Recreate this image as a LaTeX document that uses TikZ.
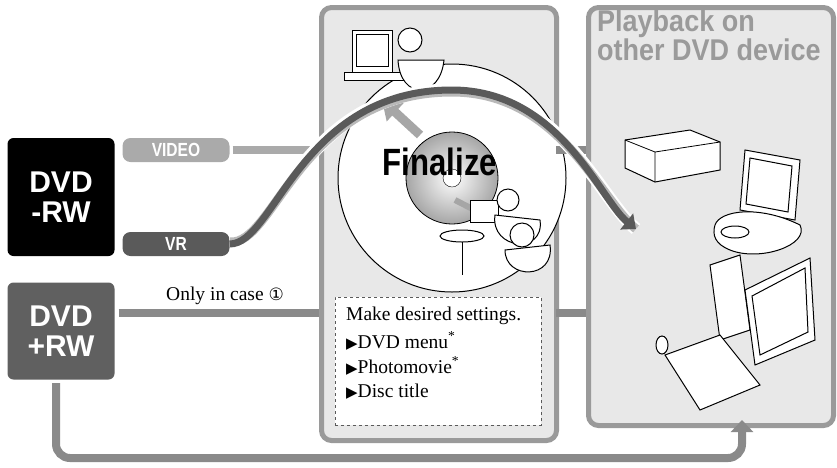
\documentclass[tikz,border=0pt]{standalone}
\usepackage{fontspec}
\setmainfont{Liberation Serif}
\setsansfont{Liberation Sans}
\newfontfamily\dej{DejaVu Sans}
\newfontfamily\cond{Liberation Sans}[FakeStretch=0.82]
\newfontfamily\tcond{Liberation Sans}[FakeStretch=0.9]
\usetikzlibrary{arrows.meta}
\definecolor{panel}{HTML}{E8E8E8}
\definecolor{pborder}{HTML}{9A9A9A}
\definecolor{lgray}{HTML}{AAAAAA}
\definecolor{mgray}{HTML}{8A8A8A}
\definecolor{dgray}{HTML}{5A5A5A}
\begin{document}
\begin{tikzpicture}[x=1pt,y=-1pt,
  panelst/.style={fill=panel,draw=pborder,line width=5pt,rounded corners=10pt},
  disc/.style={font=\sffamily\bfseries,text=white,align=center,inner sep=0pt,rounded corners=6pt},
  pill/.style={font=\cond\bfseries\fontsize{19}{19}\selectfont,text=white,rounded corners=8pt,minimum width=107pt,minimum height=24pt,inner sep=0pt},
  conn/.style={line width=8pt},
  txt/.style={font=\fontsize{19.5}{22}\selectfont,anchor=west,inner sep=0pt},
  dev/.style={draw=black,line width=1pt,fill=white}]
\useasboundingbox (0,0) rectangle (837,467);
% panels
\node[panelst,minimum width=235pt,minimum height=433pt,anchor=north west,inner sep=0pt] (mid) at (319,5) {};
\node[panelst,minimum width=245pt,minimum height=418pt,anchor=north west,inner sep=0pt] (right) at (586,5) {};
% disc
\node[circle,draw=black,line width=1pt,fill=white,minimum size=228pt,inner sep=0pt] (cd) at (452,178) {};
\shade[inner color=white,outer color=gray!70] (452,178) circle (46pt);
\draw[line width=0.8pt] (452,178) circle (46pt);
\fill[white,draw=black] (452,178) circle (9pt);
% gray arrows in disc
\draw[-{Triangle[length=18pt,width=24pt]},line width=9pt,gray!70] (420,135) -- (382,100);
\draw[-{Triangle[length=14pt,width=18pt]},line width=6pt,gray!70] (455,200) -- (490,218);
% top illustration (TV + person)
\draw[dev] (352,30) rectangle (392,72);
\draw[dev] (356,34) rectangle (388,66);
\draw[dev] (344,72) rectangle (420,80);
\draw[dev] (410,40) circle (12pt);
\draw[dev] (398,60) .. controls (400,100) and (440,100) .. (444,60) -- cycle;
% bottom illustration (people with laptop)
\draw[dev] (470,200) rectangle (498,222);
\draw[dev] (508,200) circle (11pt);
\draw[dev] (495,215) .. controls (490,250) and (545,255) .. (540,220) -- cycle;
\draw[dev] (522,235) circle (12pt);
\draw[dev] (505,250) .. controls (505,280) and (555,280) .. (550,245) -- cycle;
\draw[dev] (462,236) ellipse (22pt and 6pt);
\draw[line width=1pt] (462,242) -- (462,275);
% connectors from middle to right
\coordinate (m1) at (556,150); \coordinate (r1) at (586,150);
\coordinate (m2) at (556,313); \coordinate (r2) at (586,313);
\draw[conn,mgray] (m1) -- (r1);
\draw[conn,mgray] (m2) -- (r2);
% title right
\node[anchor=north west,font=\tcond\bfseries\fontsize{30}{29}\selectfont,text=pborder,align=left,inner sep=0pt] (title) at (597,10) {Playback on\\other DVD device};
% devices right
\draw[dev] (625,140) -- (690,130) -- (720,142) -- (720,170) -- (655,182) -- (625,168) -- cycle;
\draw[line width=0.8pt] (625,140) -- (655,152) -- (720,142) (655,152) -- (655,182);
\draw[dev] (745,150) -- (800,160) -- (795,220) -- (740,210) -- cycle;
\draw[dev] (750,158) -- (792,166) -- (788,212) -- (746,204) -- cycle;
\draw[dev] (715,225) .. controls (720,210) and (760,205) .. (800,225) .. controls (810,245) and (760,262) .. (730,250) .. controls (715,244) and (712,235) .. cycle;
\draw[dev] (735,232) ellipse (14pt and 6pt);
\draw[dev] (710,265) -- (740,255) -- (750,330) -- (720,340) -- cycle;
\draw[dev] (745,290) -- (810,258) -- (815,340) -- (755,365) -- cycle;
\draw[dev] (752,296) -- (805,268) -- (808,332) -- (760,355) -- cycle;
\draw[dev] (665,355) -- (720,335) -- (760,385) -- (700,410) -- cycle;
\draw[dev] (662,345) ellipse (6pt and 9pt);
% DVD-RW
\node[disc,fill=black,minimum width=107pt,minimum height=118pt,font=\sffamily\bfseries\fontsize{30}{30}\selectfont] (rw) at (61,197) {DVD\\-RW};
\node[pill,fill=lgray] (video) at (176,150) {VIDEO};
\node[pill,fill=dgray] (vr) at (176,244) {VR};
\coordinate (vmid) at (319,150);
\draw[conn,lgray] (video.east) ++(3,0) coordinate (ve) (ve) -- (vmid);
% VR arrow
\coordinate (vrend) at (636,229);
\draw[line width=13pt,white] (vr.east) .. controls (275,244) and (300,90) .. (452,90) .. controls (560,90) and (600,200) .. (vrend);
\draw[line width=9pt,gray!55] ([yshift=2pt]vr.east) .. controls (275,246) and (300,92) .. (452,92) .. controls (560,92) and (600,200) .. (vrend);
\draw[line width=7pt,dgray,-{Triangle[length=12pt,width=20pt]}] (vr.east) .. controls (275,244) and (300,90) .. (452,90) .. controls (560,90) and (600,200) .. (vrend);
% Finalize
\node[inner sep=0pt,font=\cond\bfseries\fontsize{38}{38}\selectfont] (fin) at (440,162) {Finalize};
% DVD+RW
\node[disc,fill=gray!75!black,minimum width=107pt,minimum height=97pt,font=\sffamily\bfseries\fontsize{30}{30}\selectfont,text=white] (prw) at (61,331) {DVD\\+RW};
\coordinate (pmid) at (319,313);
\draw[conn,mgray] (prw.east|-pmid) ++(4,0) -- (pmid);
\node[font=\fontsize{19.5}{22}\selectfont,inner sep=0pt] (case) at (225,296) {Only in case {\dej\fontsize{17}{17}\selectfont ①}};
% dashed box
\node[draw=dgray,dashed,fill=white,minimum width=206pt,minimum height=128pt,anchor=north west,inner sep=0pt] (box) at (335,297) {};
\node[txt] (t1) at (346,316) {Make desired settings.};
\node[txt] (t2) at (346,341) {{\dej\fontsize{15}{15}\selectfont ▶}DVD menu\textsuperscript{*}};
\node[txt] (t3) at (346,366) {{\dej\fontsize{15}{15}\selectfont ▶}Photomovie\textsuperscript{*}};
\node[txt] (t4) at (346,392) {{\dej\fontsize{15}{15}\selectfont ▶}Disc title};
% bottom arrow
\coordinate (pa) at (742,420);
\draw[conn,mgray,rounded corners=14pt,-{Triangle[length=12pt,width=22pt]}] (56,383) -- (56,458) -- (742,458) -- (pa);
\end{tikzpicture}
\end{document}
